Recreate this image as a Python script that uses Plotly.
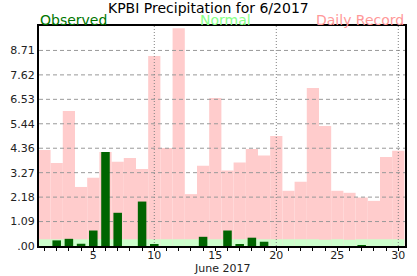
import plotly.graph_objects as go

days = list(range(1, 31))
observed = [0.00, 0.25, 0.32, 0.10, 0.69, 4.19, 1.48, 0.00, 1.98, 0.05,
            0.00, 0.00, 0.00, 0.41, 0.00, 0.69, 0.05, 0.37, 0.19, 0.00,
            0.00, 0.00, 0.00, 0.00, 0.00, 0.00, 0.03, 0.00, 0.00, 0.00]
normal = [0.30, 0.30, 0.30, 0.30, 0.30, 0.30, 0.30, 0.30, 0.30, 0.30,
          0.30, 0.30, 0.30, 0.30, 0.30, 0.30, 0.30, 0.30, 0.30, 0.30,
          0.30, 0.30, 0.30, 0.28, 0.30, 0.28, 0.30, 0.30, 0.30, 0.30]
record = [4.28, 3.70, 6.01, 2.63, 3.04, 4.19, 3.75, 3.92, 3.43, 8.46,
          4.37, 9.70, 2.31, 3.58, 6.59, 3.36, 3.72, 4.32, 4.03, 4.90,
          2.46, 2.86, 7.04, 5.35, 2.46, 2.37, 2.16, 2.01, 3.97, 4.24]
y_tick_values = [0.0, 1.0889, 2.1778, 3.2667, 4.3556, 5.4444, 6.5333, 7.6222, 8.7111]
y_tick_labels = [".00", "1.09", "2.18", "3.27", "4.36", "5.44", "6.53", "7.62", "8.71"]
x_tick_values = [5, 10, 15, 20, 25, 30]
x_tick_labels = ["5", "10", "15", "20", "25", "30"]
vline_days = [10, 20, 30]

X_RANGE = [0.55, 30.55]
Y_RANGE = [0, 9.8]
FONT = "DejaVu Sans"

fig = go.Figure()
fig.add_trace(go.Bar(x=days, y=record, width=1.0, marker=dict(color="#ffcccc", line=dict(width=0)),
                     xaxis="x", yaxis="y", showlegend=False))
fig.add_trace(go.Bar(x=days, y=normal, width=1.0, marker=dict(color="#ccffcc", line=dict(width=0)),
                     xaxis="x", yaxis="y", showlegend=False))

# gridlines drawn above record/normal bars but below observed
for yv in y_tick_values[1:]:
    fig.add_trace(go.Scatter(x=X_RANGE, y=[yv, yv], mode="lines",
                             line=dict(color="#999999", width=1, dash="4px,3px"),
                             xaxis="x", yaxis="y", showlegend=False, hoverinfo="skip"))
for xv in vline_days:
    fig.add_trace(go.Scatter(x=[xv, xv], y=Y_RANGE, mode="lines",
                             line=dict(color="#808080", width=1, dash="1px,2px"),
                             xaxis="x", yaxis="y", showlegend=False, hoverinfo="skip"))

fig.add_trace(go.Bar(x=days, y=observed, width=0.7, marker=dict(color="#006400", line=dict(width=0)),
                     xaxis="x2", yaxis="y2", showlegend=False))

fig.update_layout(
    width=417, height=276,
    margin=dict(l=36, r=10, t=26, b=30),
    paper_bgcolor="white", plot_bgcolor="white",
    barmode="overlay",
    font=dict(family=FONT, size=11, color="#222222"),
    xaxis=dict(range=X_RANGE, tickvals=x_tick_values, ticktext=x_tick_labels,
               ticks="", ticklen=0, ticklabelstandoff=-2,
               showgrid=False, zeroline=False, showline=True, linecolor="black",
               linewidth=2, mirror=True,
               tickfont=dict(family=FONT, size=11, color="#222222")),
    yaxis=dict(range=Y_RANGE, tickvals=y_tick_values, ticktext=y_tick_labels, ticks="",
               showgrid=False, zeroline=False, showline=True, linecolor="black", linewidth=2, mirror=True,
               tickfont=dict(family=FONT, size=11, color="#222222")),
    xaxis2=dict(range=X_RANGE, overlaying="x", anchor="y2", side="bottom", tick0=0, dtick=1,
                ticks="outside", ticklen=4, tickwidth=1, tickcolor="black",
                showticklabels=False, showgrid=False, zeroline=False, showline=False),
    yaxis2=dict(range=Y_RANGE, overlaying="y", visible=False),
    annotations=[
        dict(text="KPBI Precipitation for 6/2017", xref="paper", yref="paper", x=0.4636, y=1.0,
             yshift=18, xanchor="center", yanchor="middle", showarrow=False, borderpad=0,
             font=dict(family=FONT, size=14, color="black")),
        dict(text="Observed", xref="paper", yref="paper", x=0.0, y=1.0, yshift=6,
             xanchor="left", yanchor="middle", showarrow=False, borderpad=0,
             font=dict(family=FONT, size=14, color="#007700")),
        dict(text="Normal", xref="paper", yref="paper", x=0.509, y=1.0, yshift=6,
             xanchor="center", yanchor="middle", showarrow=False, borderpad=0,
             font=dict(family=FONT, size=14, color="#88ff88")),
        dict(text="Daily Record", xref="paper", yref="paper", x=1.0, y=1.0, yshift=6,
             xanchor="right", yanchor="middle", showarrow=False, borderpad=0,
             font=dict(family=FONT, size=14, color="#ff9999")),
        dict(text="June 2017", xref="paper", yref="paper", x=0.5, y=0.0, yshift=-22,
             xanchor="center", yanchor="middle", showarrow=False,
             font=dict(family=FONT, size=11, color="#222222")),
    ],
)

fig.write_html("out.html")
